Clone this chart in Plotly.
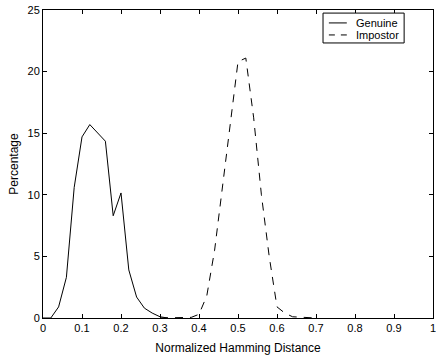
import plotly.graph_objects as go

genuine_x = [0.0, 0.02, 0.04, 0.06, 0.08, 0.10, 0.12, 0.14, 0.16, 0.18, 0.20, 0.22, 0.24, 0.26, 0.28, 0.30, 0.32]
genuine_y = [0.0, 0.0, 0.9, 3.3, 10.6, 14.7, 15.7, 15.0, 14.35, 8.3, 10.15, 3.9, 1.7, 0.8, 0.4, 0.1, 0.0]

impostor_x = [0.30, 0.32, 0.34, 0.36, 0.38, 0.40, 0.42, 0.44, 0.46, 0.48, 0.50, 0.52, 0.54, 0.56, 0.58, 0.60, 0.62, 0.64, 0.66, 0.68, 0.70]
impostor_y = [0.0, 0.0, 0.0, 0.05, 0.05, 0.3, 1.8, 5.5, 10.5, 15.5, 20.8, 21.1, 16.3, 10.0, 5.0, 0.9, 0.4, 0.1, 0.05, 0.05, 0.0]

series_names = ["Genuine", "Impostor"]

x_ticks = [0, 0.1, 0.2, 0.3, 0.4, 0.5, 0.6, 0.7, 0.8, 0.9, 1]
x_tick_labels = ["0", "0.1", "0.2", "0.3", "0.4", "0.5", "0.6", "0.7", "0.8", "0.9", "1"]
y_ticks = [0, 5, 10, 15, 20, 25]

font = "Liberation Sans, Arial, Helvetica, sans-serif"
DASH = "8px,7px"

fig = go.Figure()
fig.add_trace(go.Scatter(x=genuine_x, y=genuine_y, mode="lines", name=series_names[0],
                         line=dict(color="black", width=1), hoverinfo="skip"))
fig.add_trace(go.Scatter(x=impostor_x, y=impostor_y, mode="lines", name=series_names[1],
                         line=dict(color="black", width=1, dash=DASH), hoverinfo="skip"))

axis_common = dict(showline=True, linecolor="black", linewidth=1, mirror="ticks",
                   ticks="inside", ticklen=4, tickcolor="black", showgrid=False,
                   zeroline=False, automargin=False, ticklabeloverflow="allow",
                   tickfont=dict(family=font, size=11, color="black"))

# MATLAB-style compact legend box (paper coordinates)
shapes = [
    dict(type="rect", xref="paper", yref="paper", x0=0.718, x1=0.926, y0=0.893, y1=0.990,
         line=dict(color="black", width=1), fillcolor="white", layer="above"),
    dict(type="line", xref="paper", yref="paper", x0=0.733, x1=0.779, y0=0.958, y1=0.958,
         line=dict(color="black", width=1), layer="above"),
    dict(type="line", xref="paper", yref="paper", x0=0.733, x1=0.779, y0=0.919, y1=0.919,
         line=dict(color="black", width=1, dash="6px,6px"), layer="above"),
]
annotations = [
    dict(text=series_names[0], xref="paper", yref="paper", x=0.797, y=0.958,
         xanchor="left", yanchor="middle", showarrow=False,
         font=dict(family=font, size=11, color="black")),
    dict(text=series_names[1], xref="paper", yref="paper", x=0.797, y=0.919,
         xanchor="left", yanchor="middle", showarrow=False,
         font=dict(family=font, size=11, color="black")),
]

fig.update_layout(
    width=436, height=363,
    margin=dict(l=43, r=3, t=10, b=45),
    paper_bgcolor="white", plot_bgcolor="white",
    font=dict(family=font, size=11, color="black"),
    xaxis=dict(range=[0, 1], tickvals=x_ticks, ticktext=x_tick_labels,
               title=dict(text="Normalized Hamming Distance", font=dict(size=12), standoff=10),
               **axis_common),
    yaxis=dict(range=[0, 25], tickvals=y_ticks,
               title=dict(text="Percentage", font=dict(size=12), standoff=6),
               **axis_common),
    shapes=shapes,
    annotations=annotations,
    showlegend=False,
    hovermode=False,
)

fig.write_html("out.html", config={"displayModeBar": False},
               post_script="document.body.style.margin='0';")
